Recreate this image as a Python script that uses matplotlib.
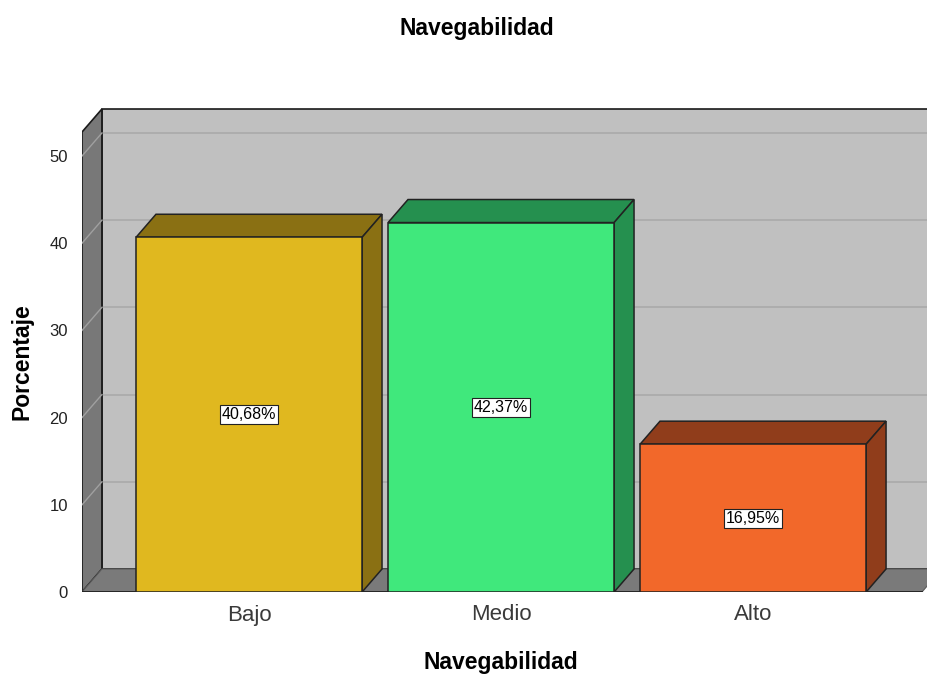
import matplotlib.pyplot as plt
from matplotlib.patches import Polygon

categorias = ["Bajo", "Medio", "Alto"]
porcentajes = [40.68, 42.37, 16.95]
etiquetas = ["40,68%", "42,37%", "16,95%"]
color_frente = ["#e0b81f", "#40e87c", "#f2682a"]
color_lado = ["#8a7013", "#25904f", "#903d1b"]
yticks = [0, 10, 20, 30, 40, 50]

plt.rcParams['font.family'] = ['Liberation Sans', 'DejaVu Sans']

fig = plt.figure(figsize=(9.27, 6.75), dpi=100)
ax = fig.add_axes([82 / 927, 83 / 675, 845 / 927, 488.3 / 675])

x0, x1 = -0.663, 2.69
top = 52.75
dx, dy = 0.079, 2.64
w = 0.897

ax.set_xlim(x0, x1)
ax.set_ylim(0, 56)
for s in ax.spines.values():
    s.set_visible(False)
ax.set_facecolor("none")

# back wall
ax.add_patch(Polygon([(x0 + dx, dy), (x1 + 0.1, dy), (x1 + 0.1, top + dy), (x0 + dx, top + dy)],
                     closed=True, fc="#c0c0c0", ec="#1a1a1a", lw=1.2, zorder=1))
# left wall
ax.add_patch(Polygon([(x0, 0), (x0, top), (x0 + dx, top + dy), (x0 + dx, dy)],
                     closed=True, fc="#787878", ec="#1a1a1a", lw=1.2, zorder=2))
# floor
ax.add_patch(Polygon([(x0, 0), (x1 - 0.02, 0), (x1 - 0.02 + dx, dy), (x0 + dx, dy)],
                     closed=True, fc="#7a7a7a", ec="#5a5a5a", lw=0.8, zorder=2))
ax.plot([x0, x1 - 0.02], [0, 0], color="#1a1a1a", lw=1.2, zorder=3)

# gridlines
for v in yticks[1:]:
    ax.plot([x0 + dx, x1 + 0.1], [v + dy, v + dy], color="#aaaaaa", lw=1.2, zorder=1.5)
    ax.plot([x0, x0 + dx], [v, v + dy], color="#a0a0a0", lw=1.0, zorder=2.5)

# bars
for i, v in enumerate(porcentajes):
    l, r = i - w / 2, i + w / 2
    ax.add_patch(Polygon([(l, 0), (r, 0), (r, v), (l, v)], closed=True,
                         fc=color_frente[i], ec="#222222", lw=1.1, zorder=5))
    ax.add_patch(Polygon([(l, v), (r, v), (r + dx, v + dy), (l + dx, v + dy)], closed=True,
                         fc=color_lado[i], ec="#222222", lw=1.1, zorder=4))
    ax.add_patch(Polygon([(r, 0), (r + dx, dy), (r + dx, v + dy), (r, v)], closed=True,
                         fc=color_lado[i], ec="#222222", lw=1.1, zorder=4))
    ax.text(i, v / 2, etiquetas[i], ha="center", va="center", fontsize=11.5, zorder=6,
            bbox=dict(boxstyle="square,pad=0.12", fc="white", ec="#222222", lw=0.8))

ax.set_yticks(yticks)
ax.set_yticklabels([str(t) for t in yticks], fontsize=12, color="#222222")
ax.set_xticks(range(len(categorias)))
ax.set_xticklabels(categorias, fontsize=16, color="#3a3a3a")
ax.tick_params(axis="y", length=0, pad=10)
ax.tick_params(axis="x", length=0, pad=9)

fig.text(22 / 927, 1 - 362 / 675, "Porcentaje", rotation=90, ha="center", va="center",
         fontsize=16.5, fontweight="bold")
fig.text(501 / 927, 1 - 662 / 675, "Navegabilidad", ha="center", va="center",
         fontsize=16.5, fontweight="bold")
fig.text(477 / 927, 1 - 28 / 675, "Navegabilidad", ha="center", va="center",
         fontsize=16.5, fontweight="bold")

fig.savefig("out.png", dpi=100, facecolor="white")
